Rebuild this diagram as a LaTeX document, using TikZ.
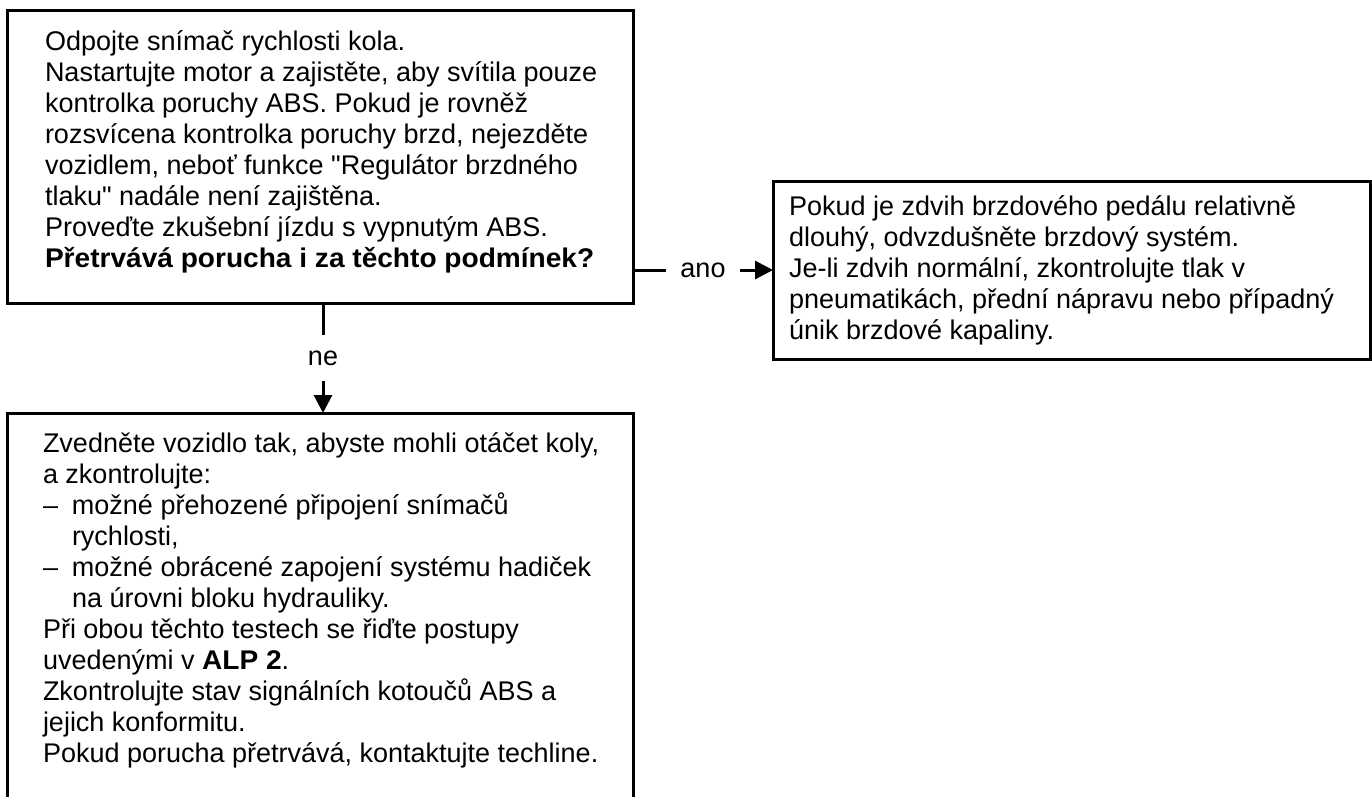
\documentclass[tikz,border=0pt]{standalone}
\usepackage{fontspec}
\usepackage{graphicx}
\setmainfont{Liberation Sans}[Ligatures=TeXOff]
\usetikzlibrary{arrows.meta}
\newcommand{\bldw}[1]{\scalebox{1.04}[1]{\textbf{#1}}}
\begin{document}
\begin{tikzpicture}[x=1pt,y=-1pt,
  box/.style={draw=black, line width=3pt, inner sep=0pt, outer sep=0pt},
  txt/.style={inner sep=0pt, outer sep=0pt, anchor=base west, font=\fontsize{27}{31}\selectfont},
  conn/.style={line width=3pt, -{Triangle[length=18pt,width=18pt]}},
  lbl/.style={fill=white, inner xsep=14pt, inner ysep=16pt, font=\fontsize{27}{31}\selectfont}]
\useasboundingbox (0,0) rectangle (1372,796);
\clip (0,0) rectangle (1372,796);
\node[box, minimum width=626pt, minimum height=293pt] (top) at (320,156.5) {};
\node[box, minimum width=597pt, minimum height=178pt] (right) at (1071.5,270) {};
\node[box, minimum width=626pt, minimum height=420pt] (bot) at (320,623) {};
\node[txt] (toptext) at (45,50) {\begin{tabular}[t]{@{}l@{}}
Odpojte snímač rychlosti kola.\\
Nastartujte motor a zajistěte, aby svítila pouze\\
kontrolka poruchy ABS. Pokud je rovněž\\
rozsvícena kontrolka poruchy brzd, nejezděte\\
vozidlem, neboť funkce "Regulátor brzdného\\
tlaku" nadále není zajištěna.\\
Proveďte zkušební jízdu s vypnutým ABS.\\
\bldw{Přetrvává porucha i za těchto podmínek?}
\end{tabular}};
\node[txt] (righttext) at (789,215) {\begin{tabular}[t]{@{}l@{}}
Pokud je zdvih brzdového pedálu relativně\\
dlouhý, odvzdušněte brzdový systém.\\
Je-li zdvih normální, zkontrolujte tlak v\\
pneumatikách, přední nápravu nebo případný\\
únik brzdové kapaliny.
\end{tabular}};
\node[txt] (bottext) at (43,452) {\begin{tabular}[t]{@{}l@{}}
Zvedněte vozidlo tak, abyste mohli otáčet koly,\\
a zkontrolujte:\\
\makebox[29pt][l]{–}možné přehozené připojení snímačů\\
\hspace*{29pt}rychlosti,\\
\makebox[29pt][l]{–}možné obrácené zapojení systému hadiček\\
\hspace*{29pt}na úrovni bloku hydrauliky.\\
Při obou těchto testech se řiďte postupy\\
uvedenými v \bldw{ALP 2}.\\
Zkontrolujte stav signálních kotoučů ABS a\\
jejich konformitu.\\
Pokud porucha přetrvává, kontaktujte techline.
\end{tabular}};
\draw[conn] (top.east |- right.west) -- node[lbl] (ano) {ano} (right.west);
\draw[conn] ([xshift=3pt]top.south) -- node[lbl] (ne) {ne} ([xshift=3pt]bot.north);
\end{tikzpicture}
\end{document}
